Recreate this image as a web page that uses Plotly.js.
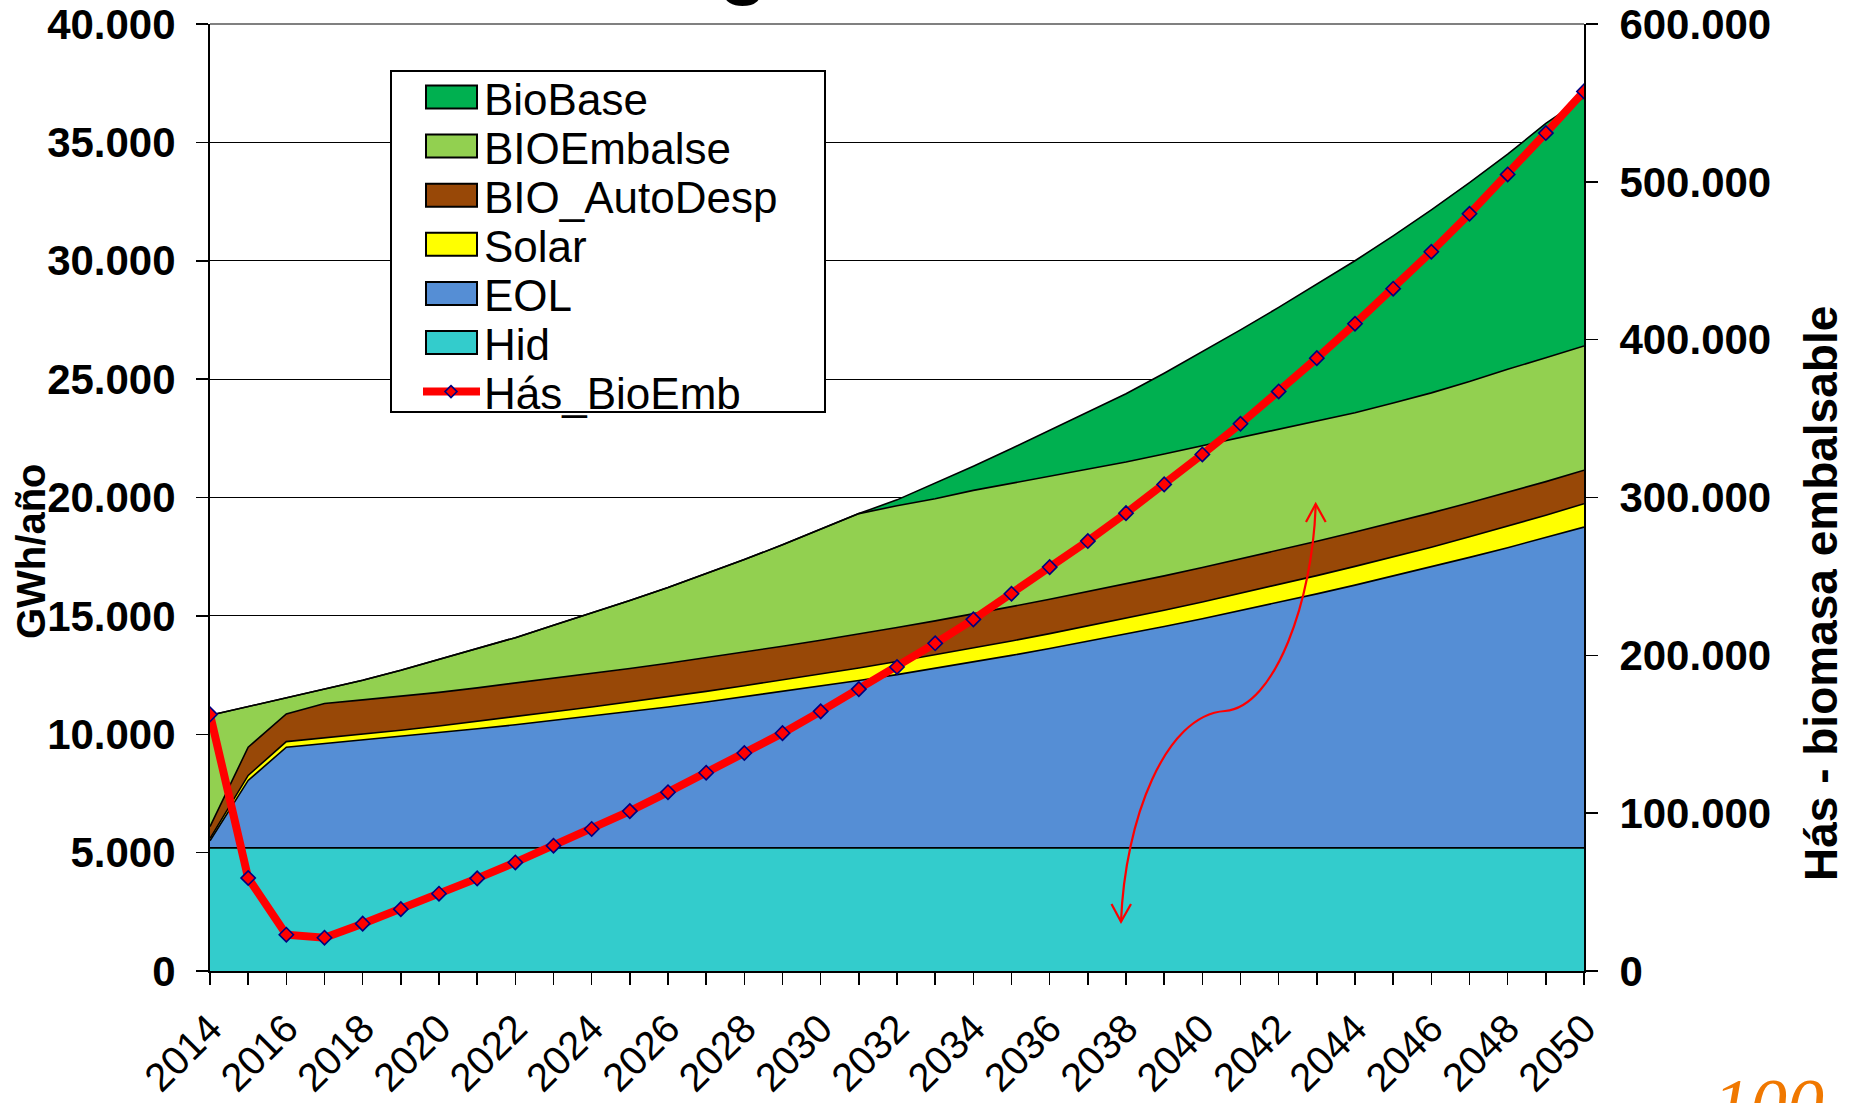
<!DOCTYPE html>
<html>
<head>
<meta charset="utf-8">
<script src="https://cdn.plot.ly/plotly-3.0.1.min.js"></script>
<style>html,body{margin:0;padding:0;background:#fff}#chart{width:1856px;height:1103px}</style>
</head>
<body>
<div id="chart"></div>
<script>
// ---------------- DATA ----------------
const years = [2014,2015,2016,2017,2018,2019,2020,2021,2022,2023,2024,2025,2026,2027,2028,2029,2030,2031,2032,2033,2034,2035,2036,2037,2038,2039,2040,2041,2042,2043,2044,2045,2046,2047,2048,2049,2050];
const xTickLabels = ["2014","","2016","","2018","","2020","","2022","","2024","","2026","","2028","","2030","","2032","","2034","","2036","","2038","","2040","","2042","","2044","","2046","","2048","","2050"];

// GWh/año (stacked, individual contributions)
const hid = [5200,5200,5200,5200,5200,5200,5200,5200,5200,5200,5200,5200,5200,5200,5200,5200,5200,5200,5200,5200,5200,5200,5200,5200,5200,5200,5200,5200,5200,5200,5200,5200,5200,5200,5200,5200,5200];
const eol = [300,2850,4250,4400,4550,4700,4860,5030,5200,5380,5560,5750,5950,6160,6380,6600,6830,7070,7320,7580,7850,8130,8420,8720,9030,9350,9680,10020,10370,10730,11100,11480,11870,12270,12680,13100,13550];
const solar = [100,210,240,240,250,270,290,310,340,370,390,410,430,450,470,490,510,530,550,570,590,610,630,650,670,690,710,730,750,770,790,810,830,870,910,950,990];
const bioAutoDesp = [500,1190,1170,1460,1450,1430,1420,1420,1420,1420,1420,1420,1420,1420,1420,1430,1430,1430,1440,1440,1440,1450,1450,1450,1450,1450,1450,1450,1450,1450,1450,1450,1450,1440,1430,1420,1410];
const bioEmbalse = [4700,1720,710,630,830,1100,1380,1640,1920,2230,2550,2870,3200,3550,3910,4280,4680,5090,5140,5160,5220,5210,5170,5160,5150,5150,5150,5140,5120,5070,5040,5050,5070,5120,5200,5230,5250];
const bioBase = [0,0,0,0,0,0,0,0,0,0,0,0,0,0,0,0,0,0,250,650,1020,1470,1980,2420,2880,3410,3960,4540,5140,5780,6420,7060,7730,8400,9080,9900,10500];

// Hás - biomasa embalsable (right axis)
const hasBioEmb = [162600,58900,23000,21100,30000,39200,49000,58700,68800,79400,90000,101300,113300,125600,138100,150700,164500,178600,192600,207600,222800,239000,255900,272400,290100,308300,327300,346700,367200,388300,410100,432300,455700,479800,504700,530900,557300];

const seriesNames = ["Hid","EOL","Solar","BIO_AutoDesp","BIOEmbalse","BioBase"];
const lineName = "Hás_BioEmb";
const yTitle = "GWh/año";
const y2Title = "Hás - biomasa embalsable";

// ---------------- STYLE ----------------
const seriesColors = {"Hid":"#33CCCC","EOL":"#558ED5","Solar":"#FFFF00","BIO_AutoDesp":"#984807","BIOEmbalse":"#92D050","BioBase":"#00B050"};
const seriesData = {"Hid":hid,"EOL":eol,"Solar":solar,"BIO_AutoDesp":bioAutoDesp,"BIOEmbalse":bioEmbalse,"BioBase":bioBase};

const W=1856,H=1103,ML=210,MR=272,MT=24,MB=132;
const PW=W-ML-MR, PH=H-MT-MB;
const px = X => (X-ML)/PW;
const py = Y => (MT+PH-Y)/PH;
const FONT = "Liberation Sans, Arial, sans-serif";

const traces = seriesNames.map(n => ({
  type:'scatter', mode:'lines', x:years, y:seriesData[n], name:n,
  stackgroup:'gen', fillcolor:seriesColors[n],
  line:{color:'#000000', width:1.6, shape:'linear'}, hoverinfo:'skip'
}));
traces.push({
  type:'scatter', mode:'lines+markers', x:years, y:hasBioEmb, name:lineName, yaxis:'y2',
  line:{color:'#FF0000', width:8},
  marker:{symbol:'diamond', size:11, color:'#FF0000', line:{color:'#000080', width:1.6}},
  hoverinfo:'skip'
});

// ---------------- LEGEND (drawn manually) ----------------
const shapes = [];
const annotations = [];
shapes.push({type:'rect', xref:'paper', yref:'paper', x0:px(391), x1:px(825), y0:py(412), y1:py(71),
  line:{color:'#000', width:2}, fillcolor:'#FFFFFF', layer:'above'});
const legendOrder = ["BioBase","BIOEmbalse","BIO_AutoDesp","Solar","EOL","Hid"];
const rowY0 = 97, rowStep = 49.1;
legendOrder.forEach((n,i)=>{
  const cy = rowY0 + i*rowStep;
  shapes.push({type:'rect', xref:'paper', yref:'paper', x0:px(426), x1:px(477), y0:py(cy+11.5), y1:py(cy-11.5),
    line:{color:'#000', width:2}, fillcolor:seriesColors[n], layer:'above'});
  annotations.push({xref:'paper', yref:'paper', x:px(482), y:py(cy+2), xanchor:'left', yanchor:'middle',
    text:n, showarrow:false, font:{family:FONT, size:44, color:'#000'}});
});
{
  const cy = rowY0 + 6*rowStep;
  shapes.push({type:'line', xref:'paper', yref:'paper', x0:px(423), x1:px(480), y0:py(cy), y1:py(cy),
    line:{color:'#FF0000', width:8}, layer:'above'});
  const cx=451, r=6;
  shapes.push({type:'path', xref:'paper', yref:'paper',
    path:`M ${px(cx)},${py(cy-r)} L ${px(cx+r)},${py(cy)} L ${px(cx)},${py(cy+r)} L ${px(cx-r)},${py(cy)} Z`,
    line:{color:'#000080', width:1.6}, fillcolor:'#FF0000', layer:'above'});
  annotations.push({xref:'paper', yref:'paper', x:px(482), y:py(cy+2), xanchor:'left', yanchor:'middle',
    text:lineName, showarrow:false, font:{family:FONT, size:44, color:'#000'}});
}

// top border (gray)
shapes.push({type:'line', xref:'paper', yref:'paper', x0:0, x1:1, y0:1, y1:1, line:{color:'#808080', width:2}, layer:'above'});

// curved double-headed red arrow
shapes.push({type:'path', xref:'paper', yref:'paper',
  path:`M ${px(1121)},${py(921.7)} C ${px(1125)},${py(820)} ${px(1165)},${py(715)} ${px(1225)},${py(711)} C ${px(1275)},${py(707)} ${px(1313)},${py(600)} ${px(1315.7)},${py(504)}`,
  line:{color:'#FF0000', width:2.2}, layer:'above'});
shapes.push({type:'path', xref:'paper', yref:'paper',
  path:`M ${px(1306)},${py(522)} L ${px(1315.7)},${py(504)} L ${px(1325.7)},${py(522)}`,
  line:{color:'#FF0000', width:2.2}, layer:'above'});
shapes.push({type:'path', xref:'paper', yref:'paper',
  path:`M ${px(1111.5)},${py(904)} L ${px(1121)},${py(921.7)} L ${px(1131)},${py(904)}`,
  line:{color:'#FF0000', width:2.2}, layer:'above'});

// axis titles
annotations.push({xref:'paper', yref:'paper', x:px(31), y:py(551), xanchor:'center', yanchor:'middle',
  text:yTitle, textangle:-90, showarrow:false, font:{family:FONT, size:40, color:'#000', weight:'bold'}});
annotations.push({xref:'paper', yref:'paper', x:px(1821), y:py(594), xanchor:'center', yanchor:'middle',
  text:y2Title, textangle:-90, showarrow:false, font:{family:FONT, size:46, color:'#000', weight:'bold'}});

// cut-off title glyph and logo fragment (both cropped at the picture edge in the reference)
annotations.push({xref:'paper', yref:'paper', x:px(743), y:py(8), xanchor:'center', yanchor:'bottom',
  text:'g', showarrow:false, font:{family:FONT, size:80, color:'#000', weight:'bold'}});
annotations.push({xref:'paper', yref:'paper', x:px(1768), y:py(1062), xanchor:'center', yanchor:'top',
  text:'100', showarrow:false, font:{family:'Liberation Serif, serif', size:74, color:'#F07800', style:'italic'}});

const layout = {
  width:W, height:H,
  margin:{l:ML, r:MR, t:MT, b:MB, pad:0},
  paper_bgcolor:'#FFFFFF', plot_bgcolor:'#FFFFFF',
  separators:',.',
  showlegend:false,
  font:{family:FONT, color:'#000'},
  xaxis:{
    type:'linear', range:[2014,2050], tickmode:'array', tickvals:years, ticktext:xTickLabels,
    tickangle:-45, tickfont:{family:FONT, size:40, color:'#000'},
    ticks:'outside', ticklen:12, tickwidth:1.5, tickcolor:'#000',
    showline:true, linecolor:'#000', linewidth:2, showgrid:false, zeroline:false,
    automargin:false, ticklabelstandoff:4
  },
  yaxis:{
    range:[0,40000], dtick:5000, tick0:0, tickformat:',d',
    tickfont:{family:FONT, size:42, color:'#000', weight:'bold'},
    ticks:'outside', ticklen:12, tickwidth:1.5, tickcolor:'#000',
    showline:true, linecolor:'#000', linewidth:2,
    showgrid:true, gridcolor:'#000', gridwidth:1.2, zeroline:false,
    automargin:false, ticklabelstandoff:12
  },
  yaxis2:{
    range:[0,600000], dtick:100000, tick0:0, tickformat:',d', overlaying:'y', side:'right',
    tickfont:{family:FONT, size:42, color:'#000', weight:'bold'},
    ticks:'outside', ticklen:12, tickwidth:1.5, tickcolor:'#000',
    showline:true, linecolor:'#000', linewidth:2,
    showgrid:false, zeroline:false, automargin:false, ticklabelstandoff:13
  },
  shapes:shapes,
  annotations:annotations
};

Plotly.newPlot('chart', traces, layout, {displayModeBar:false, staticPlot:true});
</script>
</body>
</html>
